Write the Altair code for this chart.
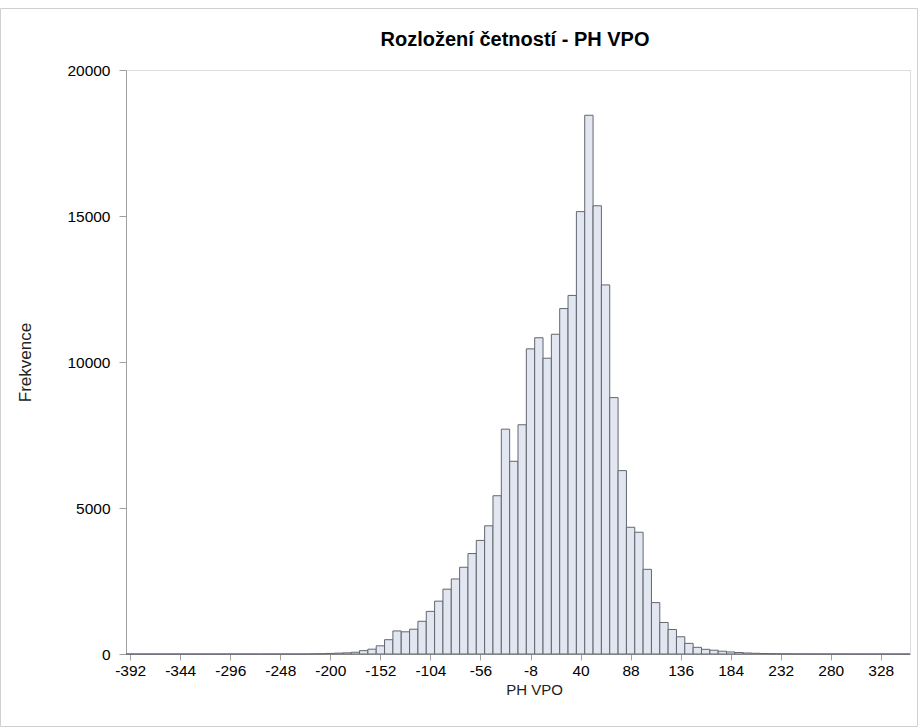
import altair as alt
import pandas as pd

# Histogram of PH VPO, bin width 8, bins centred at -392, -384, ..., 352
bin_width = 8
first_center = -392
counts = [
    0, 0, 0, 0, 0, 0, 0, 0, 0, 0, 0, 0, 0, 0, 0, 0, 0, 0, 0, 0, 0, 0,
    5, 10, 20, 30, 40, 60, 115, 165, 280, 490,
    790, 760, 850, 1120, 1460, 1810, 2220, 2570, 2970, 3440,
    3890, 4390, 5420, 7700, 6600, 7850, 10450, 10830, 10130, 10950,
    11830, 12280, 15150, 18450, 15350, 12640, 8780, 6280, 4340, 4170,
    2900, 1760, 1080, 840, 590, 365, 228, 160, 130, 95,
    70, 50, 35, 25, 18, 12, 8, 6, 4, 3,
    2, 2, 1, 1, 0, 0, 0, 0, 0, 0, 0, 0,
]
x_ticks = [-392, -344, -296, -248, -200, -152, -104, -56, -8, 40, 88, 136, 184, 232, 280, 328]
y_ticks = [0, 5000, 10000, 15000, 20000]
title_text = "Rozložení četností - PH VPO"
x_title = "PH VPO"
y_title = "Frekvence"

centers = [first_center + bin_width * i for i in range(len(counts))]
df = pd.DataFrame({
    "start": [c - bin_width / 2 for c in centers],
    "end": [c + bin_width / 2 for c in centers],
    "count": counts,
})

FONT = "Liberation Sans"
W, H = 784, 584

bars = alt.Chart(df).mark_rect(
    fill="#E1E6F0", stroke="#62666E", strokeWidth=1
).encode(
    x=alt.X("start:Q",
            scale=alt.Scale(domain=[-396, 356], nice=False, zero=False),
            axis=alt.Axis(values=x_ticks, title=x_title, grid=False,
                          labelExpr="'' + datum.value",
                          tickSize=6, labelPadding=3, labelFontSize=15.5,
                          labelFont=FONT, labelColor="#000000",
                          titleFont=FONT, titleFontSize=15, titleFontWeight="normal",
                          titleColor="#222222", titleX=408, titleY=35,
                          titleBaseline="middle", labelFlush=False,
                          domainColor="#A0A0A0", tickColor="#A0A0A0")),
    x2="end:Q",
    y=alt.Y("count:Q",
            scale=alt.Scale(domain=[0, 20000], nice=False),
            axis=alt.Axis(values=y_ticks, title=y_title, grid=False,
                          labelExpr="'' + datum.value",
                          tickSize=7, labelPadding=9, labelFontSize=15.5,
                          labelFont=FONT, labelColor="#000000",
                          titleFont=FONT, titleFontSize=17, titleFontWeight="normal",
                          titleColor="#222222", titleX=-101, titleY=H / 2,
                          titleAngle=-90, titleAlign="center", titleBaseline="middle",
                          domainColor="#A0A0A0", tickColor="#A0A0A0")),
    y2=alt.datum(0),
)

title = alt.Chart(pd.DataFrame({"t": [title_text]})).mark_text(
    font=FONT, fontSize=20, fontWeight="bold", color="#000000",
    align="center", baseline="middle"
).encode(
    text="t:N", x=alt.value(389), y=alt.value(-30),
)

border = alt.Chart(pd.DataFrame({"a": [0]})).mark_rect(
    fill=None, stroke="#D0D0D0", strokeWidth=1
).encode(
    x=alt.value(-125.5), x2=alt.value(791.5),
    y=alt.value(-61.5), y2=alt.value(656.5),
)

chart = alt.layer(border, bars, title).properties(
    width=W, height=H,
    autosize=alt.AutoSizeParams(type="none"),
    padding={"left": 126, "top": 70, "right": 8, "bottom": 73},
).configure_view(stroke="#A0A0A0", strokeWidth=1).configure(background="white")

chart.save("out.html", embed_options={"renderer": "svg", "actions": False})
